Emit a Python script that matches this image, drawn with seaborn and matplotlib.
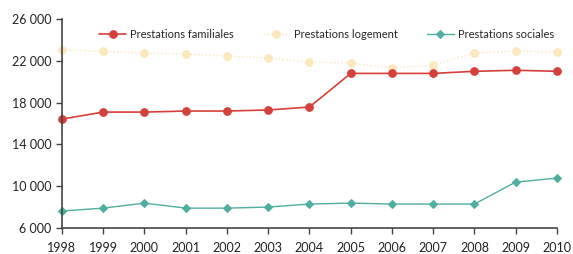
import matplotlib
matplotlib.use('Agg')
import matplotlib.pyplot as plt
import seaborn as sns
import pandas as pd
from matplotlib.ticker import FuncFormatter

# ─── Data ─────────────────────────────────────────────────────────────────────
years = list(range(1998, 2011))
familiales = [16430, 17100, 17100, 17200, 17200, 17300, 17580,
              20800, 20800, 20800, 21000, 21100, 21000]
logement = [23030, 22940, 22750, 22650, 22460, 22270, 21880,
            21790, 21310, 21600, 22750, 22940, 22840]
sociales = [7630, 7910, 8390, 7910, 7910, 8010, 8300,
            8390, 8300, 8300, 8300, 10400, 10780]
y_ticks = [6000, 10000, 14000, 18000, 22000, 26000]

df = pd.DataFrame({"annee": years,
                   "Prestations familiales": familiales,
                   "Prestations logement": logement,
                   "Prestations sociales": sociales})

sns.set_style("white")
plt.rcParams['font.family'] = ['Lato', 'DejaVu Sans']

fig = plt.figure(figsize=(5.73, 2.54), dpi=100)
ax = fig.add_axes([0.108, 0.102, 0.864, 0.823])

styles = {
    "Prestations familiales": dict(color="#d6403a", marker="o", markersize=5.5,
                                   linewidth=1.2, linestyle="-"),
    "Prestations logement": dict(color="#fbe8bc", marker="o", markersize=5.5,
                                 linewidth=1.0, linestyle=":"),
    "Prestations sociales": dict(color="#4fae9f", marker="D", markersize=4.5,
                                 linewidth=1.0, linestyle="-"),
}

for name in ["Prestations logement", "Prestations sociales", "Prestations familiales"]:
    st = styles[name]
    sns.lineplot(data=df, x="annee", y=name, ax=ax, label=name,
                 color=st["color"], marker=st["marker"], markersize=st["markersize"],
                 linewidth=st["linewidth"], linestyle=st["linestyle"],
                 markeredgecolor=st["color"], clip_on=False)

ax.set_xlim(1998, 2010)
ax.set_ylim(6000, 26000)
ax.set_xticks(years)
ax.set_yticks(y_ticks)
ax.yaxis.set_major_formatter(FuncFormatter(lambda v, p: f"{int(v):,}".replace(",", " ")))
ax.set_xlabel("")
ax.set_ylabel("")
ax.tick_params(axis="both", direction="out", length=4, width=1, color="#444444",
               labelsize=9, labelcolor="#222222", left=True, bottom=True)
ax.tick_params(axis="x", pad=6)
sns.despine(ax=ax)
for s in ["left", "bottom"]:
    ax.spines[s].set_color("#444444")
    ax.spines[s].set_linewidth(1.2)

handles, labels = ax.get_legend_handles_labels()
order = [labels.index(n) for n in ["Prestations familiales", "Prestations logement",
                                   "Prestations sociales"]]
ax.legend([handles[i] for i in order], [labels[i] for i in order],
          loc="upper center", bbox_to_anchor=(0.535, 1.0), ncol=3, frameon=False,
          fontsize=8, handlelength=2.4, columnspacing=2.6, handletextpad=0.4)

fig.savefig("out.png", dpi=100)
